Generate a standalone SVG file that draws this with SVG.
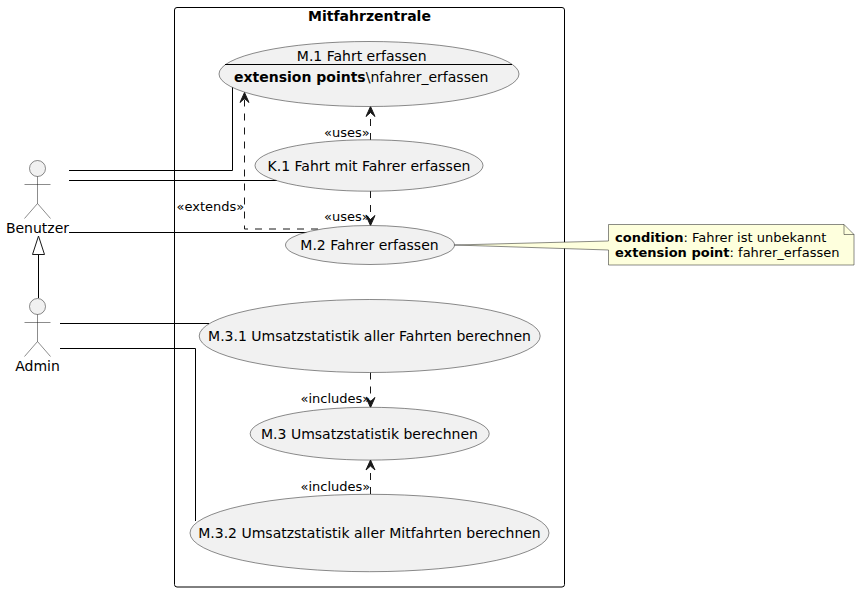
<svg xmlns="http://www.w3.org/2000/svg" width="860" height="592" viewBox="0 0 860 592">
<style>
text{font-family:"DejaVu Sans",sans-serif;fill:#000;font-size:14px}
.m{text-anchor:middle}
.b{font-weight:bold}
.s{font-size:13px}
.uc{fill:#f1f1f1;stroke:#181818;stroke-width:.5}
.act{fill:#f1f1f1;stroke:#181818;stroke-width:.5}
.ln{fill:none;stroke:#000;stroke-width:1}
.ds{fill:none;stroke:#181818;stroke-width:1;stroke-dasharray:7,7}
.ah{fill:#181818;stroke:#181818;stroke-width:1}
</style>
<defs>
<g id="stick"><circle class="act" cx="0" cy="0" r="8"/><path class="act" style="fill:none" d="M0,8V35M-13,16H13M0,35L-13,50M0,35L13,50"/></g>
<path id="up" class="ah" d="M0,0L-4.5,10 0,6 4.5,10Z"/>
</defs>
<g id="frame"><rect x="174.5" y="7.5" width="390" height="579.5" rx="2.5" fill="none" stroke="#000" stroke-width="1"/><text class="m b" x="369.5" y="21">Mitfahrzentrale</text></g>
<g id="connectors">
<path class="ln" d="M69,170.5H232.5V87"/>
<path class="ln" d="M69,180.5H277"/>
<path class="ln" d="M69,232.5H322"/>
<path class="ln" d="M60,323.5H209"/>
<path class="ln" d="M60,348.5H195.5V521"/>
<path class="ln" d="M38.5,298V254"/>
<path d="M38.5,236L32.5,254.5H44.5Z" fill="#fff" stroke="#181818" stroke-width="1"/>
<path class="ds" d="M318,229H244.5V97"/>
<use href="#up" x="244.5" y="92.5"/>
<path class="ds" d="M370.5,140V111"/>
<use href="#up" x="370.5" y="106.5"/>
<path class="ds" d="M370.5,191V220"/>
<use href="#up" transform="translate(370.5,225.5) rotate(180)"/>
<path class="ds" d="M370.5,372.5V402"/>
<use href="#up" transform="translate(370.5,407.5) rotate(180)"/>
<path class="ds" d="M370.5,494V465"/>
<use href="#up" x="370.5" y="460"/>
<text class="s" x="176.5" y="211">«extends»</text>
<text class="s" x="324" y="137">«uses»</text>
<text class="s" x="324" y="221">«uses»</text>
<text class="s" x="300.5" y="403">«includes»</text>
<text class="s" x="300.5" y="491">«includes»</text>
</g>
<g id="benutzer"><use href="#stick" x="37.5" y="168.5"/><text class="m" x="37.5" y="233">Benutzer</text></g>
<g id="admin"><use href="#stick" x="37.5" y="306.5"/><text class="m" x="37.5" y="371">Admin</text></g>
<g id="m1"><ellipse class="uc" cx="369" cy="74" rx="150" ry="32.5"/><text class="m" x="361.7" y="61">M.1 Fahrt erfassen</text><path d="M225,64.5H512" stroke="#000" stroke-width="1"/><text x="234" y="82"><tspan class="b">extension points</tspan>\nfahrer_erfassen</text></g>
<g id="k1"><ellipse class="uc" cx="369" cy="165.5" rx="114" ry="25.7"/><text class="m" x="369" y="171">K.1 Fahrt mit Fahrer erfassen</text></g>
<g id="m2"><ellipse class="uc" cx="370" cy="245" rx="84.5" ry="19.5"/><text class="m" x="369.5" y="250">M.2 Fahrer erfassen</text></g>
<g id="m31"><ellipse class="uc" cx="369.7" cy="336" rx="170.5" ry="36.5"/><text class="m" x="369.5" y="341">M.3.1 Umsatzstatistik aller Fahrten berechnen</text></g>
<g id="m3"><ellipse class="uc" cx="369.7" cy="433.7" rx="119.5" ry="26.4"/><text class="m" x="369.5" y="439">M.3 Umsatzstatistik berechnen</text></g>
<g id="m32"><ellipse class="uc" cx="369.5" cy="533" rx="179.5" ry="38.7"/><text class="m" x="369.5" y="538">M.3.2 Umsatzstatistik aller Mitfahrten berechnen</text></g>
<g id="note">
<path d="M608.5,224.5H844L854,234.5V265H608.5V250L454.5,245 608.5,241Z" fill="#feffdd" stroke="#181818" stroke-width=".5"/>
<path d="M844,224.5V234.5H854" fill="none" stroke="#181818" stroke-width=".5"/>
<text class="s" x="615" y="242"><tspan class="b">condition</tspan>: Fahrer ist unbekannt</text>
<text class="s" x="615" y="257"><tspan class="b">extension point</tspan>: fahrer_erfassen</text>
</g>
</svg>
